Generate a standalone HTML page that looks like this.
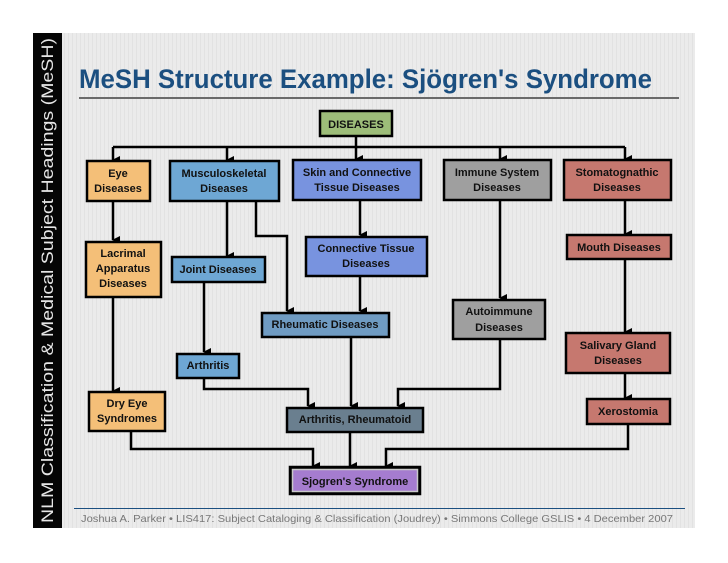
<!DOCTYPE html>
<html><head><meta charset="utf-8"><style>
html,body{margin:0;padding:0;background:#fff;}
svg{display:block;}
</style></head><body>
<svg width="728" height="563" viewBox="0 0 728 563" xmlns="http://www.w3.org/2000/svg" font-family="Liberation Sans, sans-serif">
<defs>
<pattern id="st" width="4" height="4" patternUnits="userSpaceOnUse">
<rect width="4" height="4" fill="#ebebeb"/><rect width="1" height="4" fill="#e2e2e2"/>
</pattern>
<marker id="a" markerWidth="8" markerHeight="8" refX="4" refY="7" orient="auto" markerUnits="userSpaceOnUse" viewBox="0 0 8 8">
<path d="M0,0 L8,0 L4,8 z" fill="#000"/>
</marker>
</defs>
<rect x="33" y="33" width="662" height="495" fill="url(#st)"/>
<rect x="33" y="33" width="29" height="495" fill="#050505"/>
<text transform="translate(53,523) rotate(-90)" font-size="17" fill="#e6e6e6" textLength="485" lengthAdjust="spacingAndGlyphs">NLM Classification &amp; Medical Subject Headings (MeSH)</text>
<text x="79" y="88" font-size="27" font-weight="bold" fill="#1b4f80" textLength="573" lengthAdjust="spacingAndGlyphs">MeSH Structure Example: Sjögren's Syndrome</text>
<rect x="79" y="97" width="600" height="2" fill="#6a6a6a"/>

<g stroke="#000" stroke-width="2.5" fill="none">
<path d="M356,136 V147"/>
<path d="M113,147 H625"/>
<path d="M113,147 V160" marker-end="url(#a)"/>
<path d="M227,147 V160" marker-end="url(#a)"/>
<path d="M356,147 V159" marker-end="url(#a)"/>
<path d="M500,147 V159" marker-end="url(#a)"/>
<path d="M625,147 V159" marker-end="url(#a)"/>
<path d="M113,201 V240" marker-end="url(#a)"/>
<path d="M113,297 V391" marker-end="url(#a)"/>
<path d="M227,201 V256" marker-end="url(#a)"/>
<path d="M256,201 V236 H287 V311" marker-end="url(#a)"/>
<path d="M360,200 V235" marker-end="url(#a)"/>
<path d="M360,276 V311" marker-end="url(#a)"/>
<path d="M204,282 V352" marker-end="url(#a)"/>
<path d="M351,337 V406" marker-end="url(#a)"/>
<path d="M204,378 V389 H308 V406" marker-end="url(#a)"/>
<path d="M500,200 V298" marker-end="url(#a)"/>
<path d="M500,339 V389 H398 V406" marker-end="url(#a)"/>
<path d="M625,200 V234" marker-end="url(#a)"/>
<path d="M625,259 V332" marker-end="url(#a)"/>
<path d="M625,373 V398" marker-end="url(#a)"/>
<path d="M131,431 V449 H313 V466" marker-end="url(#a)"/>
<path d="M350,432 V466" marker-end="url(#a)"/>
<path d="M628,424 V449 H386 V466" marker-end="url(#a)"/>
</g>

<g stroke="#000" stroke-width="2.5">
<rect x="320" y="111" width="72" height="25" fill="#9dbd79"/>
<rect x="87" y="161" width="63" height="40" fill="#f4bf78"/>
<rect x="170" y="161" width="109" height="40" fill="#6ea7d4"/>
<rect x="293" y="160" width="128" height="40" fill="#7893df"/>
<rect x="444" y="160" width="107" height="40" fill="#9f9f9f"/>
<rect x="564" y="160" width="107" height="40" fill="#c6786f"/>
<rect x="86" y="242" width="75" height="55" fill="#f4bf78"/>
<rect x="172" y="257" width="93" height="25" fill="#6ea7d4"/>
<rect x="306" y="237" width="121" height="39" fill="#7893df"/>
<rect x="567" y="235" width="104" height="24" fill="#c6786f"/>
<rect x="262" y="313" width="127" height="24" fill="#6f9bc2"/>
<rect x="453" y="300" width="92" height="39" fill="#9f9f9f"/>
<rect x="566" y="333" width="104" height="40" fill="#c6786f"/>
<rect x="177" y="354" width="62" height="24" fill="#6ea7d4"/>
<rect x="89" y="392" width="76" height="39" fill="#f4bf78"/>
<rect x="287" y="408" width="136" height="24" fill="#6a7f8f"/>
<rect x="587" y="399" width="83" height="25" fill="#c6786f"/>
<rect x="290" y="467" width="130" height="27" fill="#000"/>
<rect x="292.5" y="469.5" width="125" height="22" fill="#a57ccf" stroke="#c8c8c8" stroke-width="1.5"/>
</g>

<g font-size="11" font-weight="bold" fill="#111" text-anchor="middle">
<text x="356" y="128">DISEASES</text>
<text x="118" y="177">Eye</text><text x="118" y="192">Diseases</text>
<text x="224" y="177">Musculoskeletal</text><text x="224" y="192">Diseases</text>
<text x="357" y="176">Skin and Connective</text><text x="357" y="191">Tissue Diseases</text>
<text x="497" y="176">Immune System</text><text x="497" y="191">Diseases</text>
<text x="617" y="176">Stomatognathic</text><text x="617" y="191">Diseases</text>
<text x="123" y="257">Lacrimal</text><text x="123" y="272">Apparatus</text><text x="123" y="287">Diseases</text>
<text x="218" y="273">Joint Diseases</text>
<text x="366" y="252">Connective Tissue</text><text x="366" y="267">Diseases</text>
<text x="619" y="251">Mouth Diseases</text>
<text x="325" y="328">Rheumatic Diseases</text>
<text x="499" y="315">Autoimmune</text><text x="499" y="331">Diseases</text>
<text x="618" y="349">Salivary Gland</text><text x="618" y="364">Diseases</text>
<text x="208" y="369">Arthritis</text>
<text x="127" y="407">Dry Eye</text><text x="127" y="422">Syndromes</text>
<text x="355" y="423">Arthritis, Rheumatoid</text>
<text x="628" y="415">Xerostomia</text>
<text x="355" y="485">Sjogren's Syndrome</text>
</g>

<rect x="74" y="508" width="611" height="1" fill="#1b4f80"/>
<text x="81" y="522" font-size="10.5" fill="#777" textLength="592" lengthAdjust="spacingAndGlyphs">Joshua A. Parker  •  LIS417:  Subject Cataloging &amp; Classification (Joudrey)  •  Simmons College GSLIS  •  4 December 2007</text>
</svg>
</body></html>
